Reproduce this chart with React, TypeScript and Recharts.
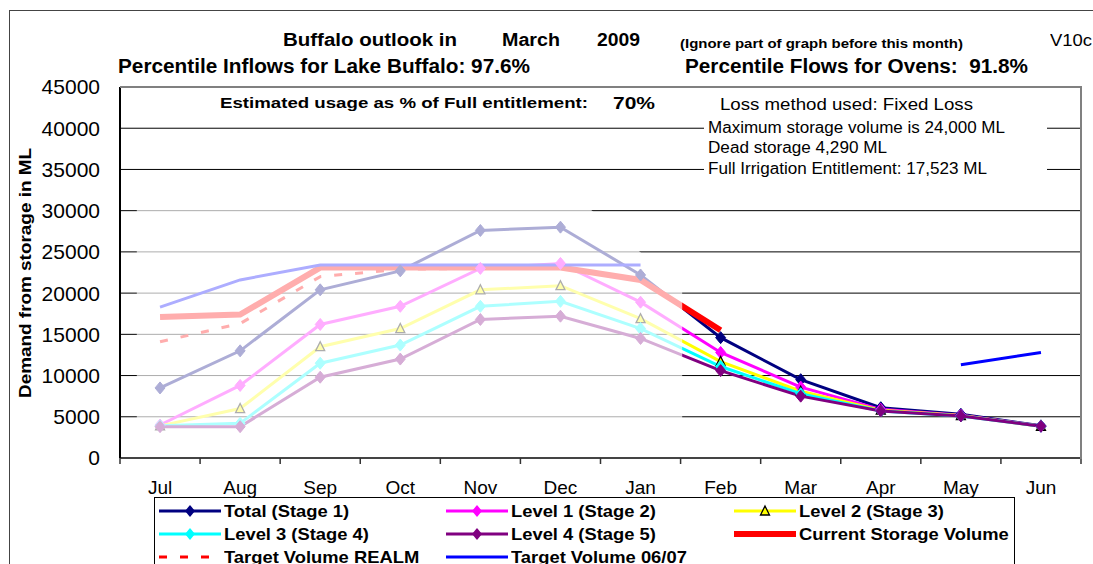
import React from "react";
import { LineChart, Line, XAxis, YAxis, CartesianGrid, ReferenceArea } from "recharts";

// values (ML)
const months = ["Jul", "Aug", "Sep", "Oct", "Nov", "Dec", "Jan", "Feb", "Mar", "Apr", "May", "Jun"];
const totalStage1 = [8500, 13000, 20400, 22700, 27600, 28000, 22200, 14600, 9500, 6100, 5300, 3900];
const level1Stage2 = [4000, 8800, 16200, 18400, 23000, 23600, 18900, 12800, 8600, 5900, 5200, 3850];
const level2Stage3 = [3900, 6000, 13500, 15700, 20400, 20900, 16900, 11700, 8100, 5800, 5150, 3850];
const level3Stage4 = [3900, 4200, 11500, 13700, 18400, 19000, 15700, 11100, 7800, 5700, 5100, 3850];
const level4Stage5 = [3800, 3800, 9800, 12000, 16800, 17200, 14500, 10600, 7500, 5700, 5100, 3850];
const currentStorage = [17100, 17400, 23100, 23100, 23100, 23100, 21600, 15500, null, null, null, null];
const targetRealm = [14100, 16300, 22000, 22900, 23000, 23000, null, null, null, null, null, null];
const target0607 = [18300, 21600, 23400, 23400, 23400, 23400, 23400, null, null, null, 11300, 12800];
const yTicks = [0, 5000, 10000, 15000, 20000, 25000, 30000, 35000, 40000, 45000];

const rows = months.map((m, i) => ({
  x: i,
  month: m,
  total: totalStage1[i],
  level1: level1Stage2[i],
  level2: level2Stage3[i],
  level3: level3Stage4[i],
  level4: level4Stage5[i],
  current: currentStorage[i],
  realm: targetRealm[i],
  t0607: target0607[i],
}));

// label ticks on the months, tick marks on the boundaries between them
const xTicks = months.flatMap((_, i) => [i - 0.5, i]).concat(months.length - 0.5);

type Marker = "diamond" | "triangle" | null;
const series: { key: string; name: string; color: string; width: number; dash?: string; marker: Marker }[] = [
  { key: "total", name: "Total (Stage 1)", color: "#000080", width: 3, marker: "diamond" },
  { key: "level1", name: "Level 1 (Stage 2)", color: "#FF00FF", width: 3, marker: "diamond" },
  { key: "level2", name: "Level 2 (Stage 3)", color: "#FFFF00", width: 3, marker: "triangle" },
  { key: "level3", name: "Level 3 (Stage 4)", color: "#00FFFF", width: 3, marker: "diamond" },
  { key: "level4", name: "Level 4 (Stage 5)", color: "#800080", width: 3, marker: "diamond" },
  { key: "current", name: "Current Storage Volume", color: "#FF0000", width: 6, marker: null },
  { key: "realm", name: "Target Volume REALM", color: "#FF0000", width: 3, dash: "8 13", marker: null },
  { key: "t0607", name: "Target Volume 06/07", color: "#0000FF", width: 3, marker: null },
];

const FONT = '"Liberation Sans", Arial, sans-serif';

const ctx = typeof document !== "undefined" ? document.createElement("canvas").getContext("2d") : null;
function measure(text: string, size: number, bold: boolean) {
  if (!ctx) return 0;
  ctx.font = `${bold ? "bold " : ""}${size}px "Liberation Sans"`;
  return ctx.measureText(text).width;
}

function Txt({ x, cy, size, bold = false, w, children }: { x: number; cy: number; size: number; bold?: boolean; w?: number; children: string }) {
  const nat = measure(children, size, bold);
  const sx = w && nat ? w / nat : 1;
  return (
    <div
      style={{
        position: "absolute",
        left: x,
        top: cy - size * 0.49,
        fontSize: size,
        lineHeight: `${size}px`,
        fontWeight: bold ? "bold" : "normal",
        whiteSpace: "pre",
        transform: `scaleX(${sx})`,
        transformOrigin: "0 50%",
        color: "#000",
      }}
    >
      {children}
    </div>
  );
}

function markerPath(kind: Marker, cx: number, cy: number) {
  if (kind === "diamond") return `M${cx},${cy - 6}L${cx + 5},${cy}L${cx},${cy + 6}L${cx - 5},${cy}Z`;
  return `M${cx},${cy - 5}L${cx + 4.5},${cy + 4}L${cx - 4.5},${cy + 4}Z`;
}

function makeDot(kind: Marker, color: string) {
  if (!kind) return false;
  return (p: any) => {
    const { cx, cy, index, value } = p;
    if (value == null || cy == null || isNaN(cy)) return <g key={`d-${index}`} />;
    return kind === "triangle" ? (
      <path key={`d-${index}`} d={markerPath(kind, cx, cy)} fill={color} stroke="#000" strokeWidth={1.3} />
    ) : (
      <path key={`d-${index}`} d={markerPath(kind, cx, cy)} fill={color} stroke={color} strokeWidth={1} />
    );
  };
}

function XTick(p: any) {
  const { x, y, payload } = p;
  const v = payload.value;
  if (Number.isInteger(v)) {
    return (
      <text x={x} y={y + 36} textAnchor="middle" fontSize={19} fill="#000" fontFamily={FONT}>
        {months[v]}
      </text>
    );
  }
  return <line x1={x} x2={x} y1={y} y2={y + 6} stroke="#333" strokeWidth={1.5} />;
}

// faded (pre-March) part of the graph, top-right corner cut off
function FadeShape(p: any) {
  const { x, y, width, height } = p;
  const d = `M${x},${y}H${x + width - 93}L${x + width},${y + 80}V${y + height}H${x}Z`;
  return <path d={d} fill="#FFFFFF" fillOpacity={0.68} stroke="none" />;
}

const legendCols = [158, 445, 733];
const legendRows = [511, 534, 557];

function LegendSwatch({ s, x, cy }: { s: (typeof series)[number]; x: number; cy: number }) {
  return (
    <svg style={{ position: "absolute", left: x, top: cy - 8 }} width={64} height={16}>
      <line x1={1} x2={63} y1={8} y2={8} stroke={s.color} strokeWidth={s.width} strokeDasharray={s.dash} />
      {s.marker === "diamond" && <path d={markerPath("diamond", 32, 8)} fill={s.color} />}
      {s.marker === "triangle" && <path d={markerPath("triangle", 32, 8)} fill={s.color} stroke="#000" strokeWidth={1.3} />}
    </svg>
  );
}

const yTitle = "Demand from storage in ML";

export default function App() {
  const yTitleScale = 250 / (measure(yTitle, 16, true) || 250);
  return (
    <div
      style={{
        position: "absolute",
        left: 0,
        top: 0,
        width: 1093,
        height: 564,
        overflow: "hidden",
        background: "#fff",
        fontFamily: FONT,
      }}
    >
      {/* outer frame */}
      <div style={{ position: "absolute", left: 9, top: 10, width: 1100, height: 600, border: "1px solid #444" }} />

      <LineChart width={1093} height={564} data={rows} margin={{ top: 87, right: 12, left: 0, bottom: 76 }}>
        <CartesianGrid horizontal vertical={false} stroke="#000" strokeWidth={1} />
        <XAxis
          dataKey="x"
          type="number"
          domain={[-0.5, 11.5]}
          ticks={xTicks}
          interval={0}
          height={30}
          tickLine={false}
          tickSize={0}
          tickMargin={0}
          tick={<XTick />}
          axisLine={{ stroke: "#444", strokeWidth: 2 }}
        />
        <YAxis
          type="number"
          domain={[0, 45000]}
          ticks={yTicks}
          interval={0}
          width={120}
          tickLine={false}
          tickSize={0}
          tickMargin={20}
          tick={{ fontSize: 21, fill: "#000", fontFamily: FONT }}
          axisLine={{ stroke: "#000", strokeWidth: 2 }}
        />
        {series.map((s) => (
          <Line
            key={s.key}
            type="linear"
            dataKey={s.key}
            name={s.name}
            stroke={s.color}
            strokeWidth={s.width}
            strokeDasharray={s.dash}
            dot={makeDot(s.marker, s.color) as any}
            activeDot={false}
            isAnimationActive={false}
          />
        ))}
        <ReferenceArea x1={-0.29} x2={6.52} y1={1500} y2={30300} shape={<FadeShape />} zIndex={1300} />
      </LineChart>

      {/* plot frame (top / right) */}
      <div
        style={{
          position: "absolute",
          left: 120,
          top: 86,
          width: 962,
          height: 373,
          boxSizing: "border-box",
          borderTop: "2px solid #808080",
          borderRight: "2px solid #808080",
        }}
      />

      {/* y axis title */}
      <div
        style={{
          position: "absolute",
          left: 26,
          top: 273,
          fontSize: 16,
          lineHeight: "16px",
          fontWeight: "bold",
          whiteSpace: "pre",
          transform: `translate(-50%, -50%) rotate(-90deg) scaleX(${yTitleScale})`,
        }}
      >
        {yTitle}
      </div>

      {/* titles */}
      <Txt x={283} cy={40} size={18} bold w={174}>Buffalo outlook in</Txt>
      <Txt x={502} cy={40} size={18} bold w={58}>March</Txt>
      <Txt x={597} cy={40} size={18} bold w={43}>2009</Txt>
      <Txt x={680} cy={43} size={13} bold w={283}>(Ignore part of graph before this month)</Txt>
      <Txt x={1050} cy={41} size={16} w={42}>V10c</Txt>
      <Txt x={118} cy={67} size={19.5} bold w={412}>Percentile Inflows for Lake Buffalo: 97.6%</Txt>
      <Txt x={685} cy={67} size={19.5} bold w={343}>Percentile Flows for Ovens:  91.8%</Txt>

      <Txt x={220} cy={103} size={15.5} bold w={368}>Estimated usage as % of Full entitlement:</Txt>
      <Txt x={613} cy={103} size={17} bold w={42}>70%</Txt>

      {/* notes box */}
      <div style={{ position: "absolute", left: 704, top: 94, width: 343, height: 84, background: "#fff" }} />
      <Txt x={720} cy={105} size={16} w={253}>Loss method used: Fixed Loss</Txt>
      <Txt x={708} cy={127.5} size={16} w={297}>Maximum storage volume is 24,000 ML</Txt>
      <Txt x={708} cy={148} size={16} w={179}>Dead storage 4,290 ML</Txt>
      <Txt x={708} cy={169} size={16} w={279}>Full Irrigation Entitlement: 17,523 ML</Txt>

      {/* legend */}
      <div
        style={{
          position: "absolute",
          left: 154,
          top: 497,
          width: 861,
          height: 100,
          boxSizing: "border-box",
          border: "1.5px solid #000",
          background: "#fff",
        }}
      />
      {series.map((s, i) => {
        const col = i % 3;
        const row = Math.floor(i / 3);
        const sx = legendCols[col];
        const cy = legendRows[row];
        return (
          <React.Fragment key={s.key}>
            <LegendSwatch s={s} x={sx} cy={cy} />
            <Txt x={sx + 66} cy={cy} size={17} bold w={measure(s.name, 17, true) * 1.08}>
              {s.name}
            </Txt>
          </React.Fragment>
        );
      })}
    </div>
  );
}
